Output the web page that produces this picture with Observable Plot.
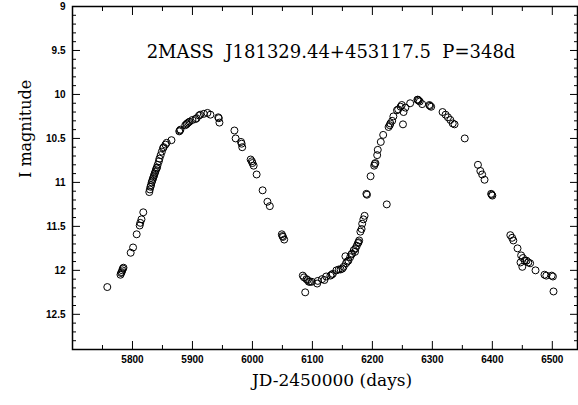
<!DOCTYPE html>
<html><head><meta charset="utf-8">
<script src="https://cdn.jsdelivr.net/npm/d3@7"></script>
<script src="https://cdn.jsdelivr.net/npm/@observablehq/plot@0.6"></script>
<style>body{margin:0;background:#fff}</style>
</head><body><div id="chart"></div>
<script>
const title = "2MASS  J181329.44+453117.5  P=348d";
const xLabel = "JD-2450000 (days)";
const yLabel = "I magnitude";

const jd = [
  5758,5780,5781,5782,5783,5784,5785,5797,5801,5807,5812,5813,5815,5818,
  5828,5829,5830,5831,5832,5833,5834,5835,5836,5837,5838,5839,5840,5841,5842,
  5844,5845,5847,5849,5851,5852,5855,5857,5865,5878,5879,5880,5888,5890,5891,
  5893,5895,5900,5905,5907,5911,5913,5919,5925,5930,5943,5944,5945,5970,5972,
  5981,5982,5983,5997,5999,6000,6002,6007,6017,6025,6029,6049,6050,6051,6053,
  6084,6086,6088,6090,6092,6094,6096,6099,6108,6109,6116,6120,6123,6130,6132,
  6134,6140,6144,6147,6150,6152,6155,6156,6158,6160,6163,6165,6166,6169,6171,
  6172,6174,6176,6177,6178,6180,6182,6183,6185,6187,6190,6191,6197,6203,6204,
  6205,6208,6209,6214,6218,6224,6227,6229,6230,6233,6235,6241,6243,6247,6249,
  6251,6252,6255,6263,6275,6276,6277,6279,6283,6295,6296,6298,6317,6322,6326,
  6330,6334,6337,6354,6376,6380,6383,6387,6398,6399,6400,6430,6433,6435,6442,
  6447,6448,6450,6451,6454,6457,6460,6463,6472,6487,6490,6499,6501,6502
];
const mag = [
  12.19,12.05,12.03,12.02,12.00,11.98,11.97,11.80,11.74,11.59,11.49,11.46,11.42,11.34,
  11.11,11.08,11.05,11.03,11.00,10.98,10.96,10.94,10.92,10.90,10.88,10.86,10.84,10.83,10.80,
  10.76,10.73,10.69,10.65,10.61,10.60,10.57,10.55,10.52,10.42,10.41,10.40,10.35,10.34,10.33,
  10.32,10.31,10.29,10.28,10.27,10.24,10.23,10.22,10.21,10.23,10.26,10.27,10.32,10.41,10.50,
  10.54,10.56,10.60,10.74,10.76,10.78,10.81,10.91,11.09,11.22,11.27,11.59,11.61,11.62,11.65,
  12.06,12.08,12.25,12.10,12.11,12.13,12.13,12.13,12.15,12.12,12.10,12.11,12.07,12.06,12.05,
  12.04,12.00,11.99,11.99,11.98,11.96,11.84,11.92,11.90,11.89,11.85,11.82,11.81,11.77,11.79,
  11.75,11.72,11.69,11.68,11.66,11.56,11.53,11.47,11.42,11.38,11.13,11.14,10.93,10.81,10.79,
  10.78,10.69,10.63,10.54,10.46,11.25,10.37,10.35,10.33,10.30,10.25,10.18,10.17,10.14,10.12,
  10.34,10.20,10.15,10.10,10.06,10.06,10.07,10.08,10.11,10.12,10.13,10.14,10.20,10.23,10.26,
  10.29,10.33,10.34,10.50,10.80,10.87,10.91,10.97,11.13,11.14,11.15,11.60,11.63,11.66,11.75,
  11.91,11.83,11.96,11.86,11.89,11.89,11.91,11.92,12.00,12.05,12.06,12.06,12.07,12.24
];

const xMajor = [5800, 5900, 6000, 6100, 6200, 6300, 6400, 6500];
const xMinor = [5750, 5850, 5950, 6050, 6150, 6250, 6350, 6450];
const yMajor = [9, 9.5, 10, 10.5, 11, 11.5, 12, 12.5];
const yMinor = [9.1,9.2,9.3,9.4,9.6,9.7,9.8,9.9,10.1,10.2,10.3,10.4,10.6,10.7,10.8,10.9,
  11.1,11.2,11.3,11.4,11.6,11.7,11.8,11.9,12.1,12.2,12.3,12.4,12.6,12.7,12.8];

const points = jd.map((d, i) => ({jd: d, mag: mag[i]}));

const tickFont = {fontFamily: "Liberation Sans", fontSize: 10, fontWeight: "bold"};
const serif = {fontFamily: "DejaVu Serif", fill: "black"};
const blank = () => "";

const chart = Plot.plot({
  width: 578,
  height: 405,
  marginLeft: 72,
  marginRight: 1,
  marginTop: 6,
  marginBottom: 56,
  style: {background: "white", color: "black", whiteSpace: "pre"},
  x: {domain: [5700, 6542]},
  y: {domain: [9, 12.9], reverse: true},
  marks: [
    Plot.axisX(xMajor, {anchor: "bottom", tickSize: -8, tickPadding: 14, label: null, tickFormat: d => String(d), ...tickFont}),
    Plot.axisX(xMinor, {anchor: "bottom", tickSize: -4, tickFormat: blank, label: null}),
    Plot.axisX(xMajor, {anchor: "top", tickSize: -8, tickFormat: blank, label: null}),
    Plot.axisX(xMinor, {anchor: "top", tickSize: -4, tickFormat: blank, label: null}),
    Plot.axisY(yMajor, {anchor: "left", tickSize: -8, tickPadding: 15, label: null, tickFormat: d => String(d), ...tickFont}),
    Plot.axisY(yMinor, {anchor: "left", tickSize: -4, tickFormat: blank, label: null}),
    Plot.axisY(yMajor, {anchor: "right", tickSize: -8, tickFormat: blank, label: null}),
    Plot.axisY(yMinor, {anchor: "right", tickSize: -4, tickFormat: blank, label: null}),
    Plot.frame({stroke: "black", strokeWidth: 1.5}),
    Plot.dot(points, {x: "jd", y: "mag", r: 3.5, stroke: "black", fill: "none", strokeWidth: 1}),
    Plot.text([title], {text: d => d, frameAnchor: "top", dy: 39, dx: 6, fontSize: 18, ...serif}),
    Plot.text([xLabel], {text: d => d, frameAnchor: "bottom", dy: 36, dx: 7, fontSize: 17, ...serif}),
    Plot.text([yLabel], {text: d => d, frameAnchor: "left", dx: -47, rotate: -90, fontSize: 16, ...serif})
  ]
});
document.getElementById("chart").appendChild(chart);
</script>
</body></html>
